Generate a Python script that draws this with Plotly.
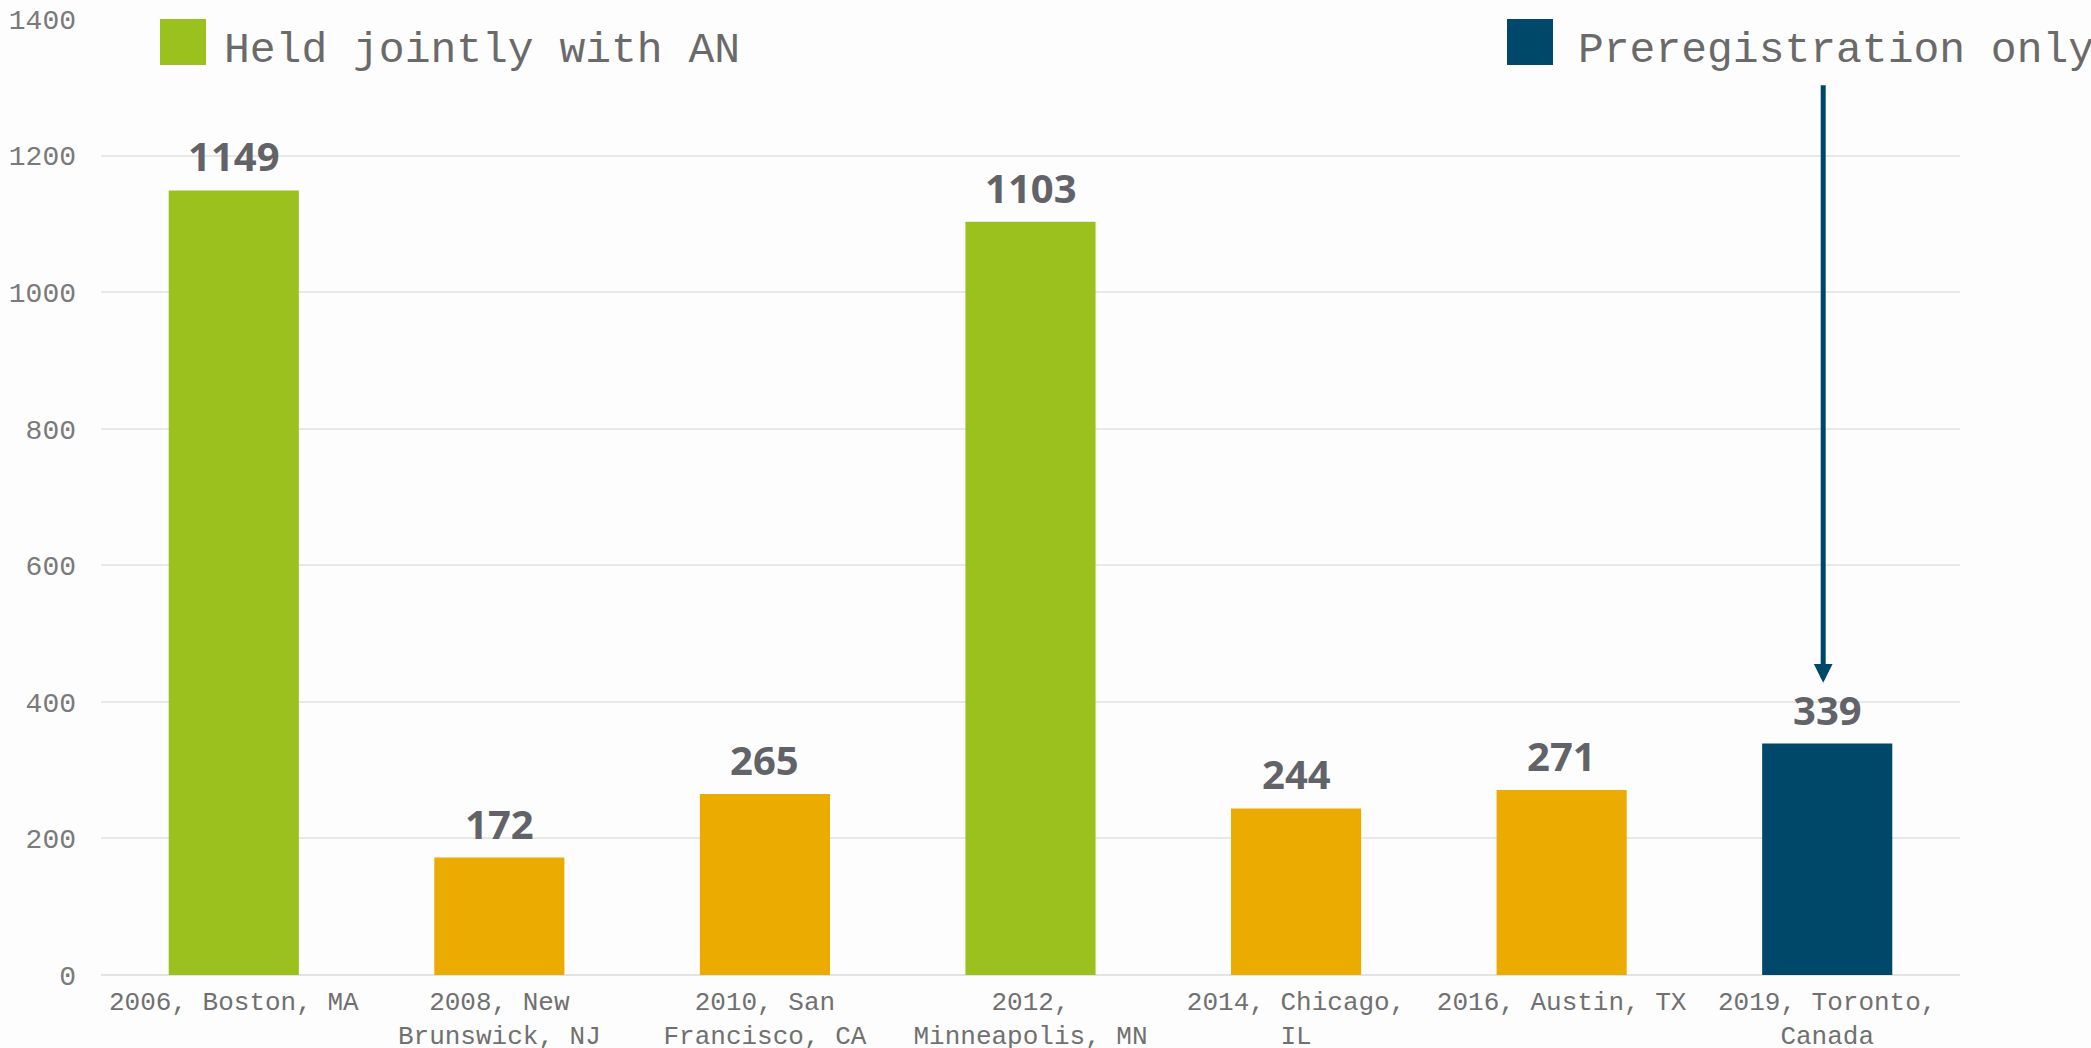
import plotly.graph_objects as go

# ---- data ----
categories = [
    "2006, Boston, MA",
    "2008, New<br>Brunswick, NJ",
    "2010, San<br>Francisco, CA",
    "2012,<br>Minneapolis, MN",
    "2014, Chicago,<br>IL",
    "2016, Austin, TX",
    "2019, Toronto,<br>Canada",
]
attendance = [1149, 172, 265, 1103, 244, 271, 339]
groups = ["joint", "solo", "solo", "joint", "solo", "solo", "prereg"]
legend_labels = {"joint": "Held jointly with AN", "prereg": "Preregistration only"}
y_ticks = [0, 200, 400, 600, 800, 1000, 1200, 1400]

# ---- style ----
W, H = 2091, 1048
ML, MR, MT, MB = 101, 131, 19, 73
colors = {"joint": "#9BC11E", "solo": "#EBAB00", "prereg": "#00486A"}
mono = "Liberation Mono, Courier New, monospace"
tick_color = "#707070"
label_color = "#626368"
bg = "#FDFDFD"

PW = W - ML - MR
PH = H - MT - MB


def px_x(p):
    return (p - ML) / PW


def px_y(p):
    return (H - MB - p) / PH


fig = go.Figure()
fig.add_trace(go.Bar(
    x=categories,
    y=attendance,
    marker=dict(color=[colors[g] for g in groups], line=dict(width=0)),
    width=0.49,
    hoverinfo="x+y",
    showlegend=False,
))

annotations = []
for c, v in zip(categories, attendance):
    annotations.append(dict(
        x=c, y=v, xref="x", yref="y", text="<b>" + str(v) + "</b>", showarrow=False,
        yanchor="bottom", yshift=5,
        font=dict(family="Noto Sans, Open Sans, sans-serif", size=40, color=label_color),
    ))

# arrow pointing down to the preregistration bar
prereg_idx = groups.index("prereg")
annotations.append(dict(
    x=categories[prereg_idx], y=attendance[prereg_idx] + 89,
    ax=categories[prereg_idx], ay=1305,
    xref="x", yref="y", axref="x", ayref="y",
    text="", showarrow=True, arrowhead=2, arrowsize=0.75, arrowwidth=5,
    arrowcolor=colors["prereg"], xshift=-4,
))

# legend (custom)
legend_items = [("joint", 160, 222), ("prereg", 1507, 1576)]
shapes = []
for key, sx, tx in legend_items:
    shapes.append(dict(
        type="rect", xref="paper", yref="paper",
        x0=px_x(sx), x1=px_x(sx + 46), y0=px_y(65), y1=px_y(19),
        fillcolor=colors[key], line=dict(width=0), layer="above",
    ))
    annotations.append(dict(
        x=px_x(tx), y=px_y(51), xref="paper", yref="paper",
        text=legend_labels[key], showarrow=False, xanchor="left", yanchor="middle",
        font=dict(family=mono, size=43, color="#6a6a6a"),
    ))

fig.update_layout(
    width=W, height=H,
    margin=dict(l=ML, r=MR, t=MT, b=MB, autoexpand=False),
    paper_bgcolor=bg, plot_bgcolor=bg,
    bargap=0.51,
    annotations=annotations,
    shapes=shapes,
    showlegend=False,
)
fig.update_xaxes(
    type="category",
    range=[-0.5, len(categories) - 0.5],
    showgrid=False, showline=False, zeroline=False,
    ticks="", ticklabelstandoff=8,
    tickfont=dict(family=mono, size=26, color=tick_color),
    automargin=False,
)
fig.update_yaxes(
    range=[0, 1400],
    tickvals=y_ticks,
    showgrid=True, gridcolor="#E8E8E8", gridwidth=2,
    zeroline=True, zerolinecolor="#E3E3E3", zerolinewidth=2,
    showline=False, ticks="", ticklabelstandoff=24,
    tickfont=dict(family=mono, size=28, color="#7a7a7a"),
    automargin=False,
)

fig.write_html(
    "out.html",
    config={"displayModeBar": False},
    post_script="document.body.style.margin='0';document.body.style.overflow='hidden';",
)
